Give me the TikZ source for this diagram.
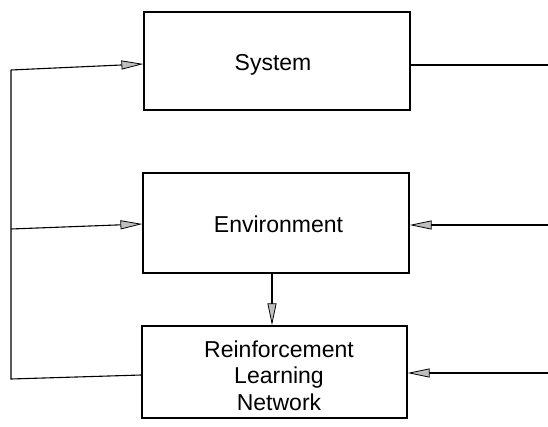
\documentclass[tikz,border=0pt]{standalone}
\usepackage{fontspec}
\setmainfont{Liberation Sans}
\usetikzlibrary{arrows.meta}
\begin{document}
\begin{tikzpicture}[x=1pt,y=-1pt,
  box/.style={draw=black, line width=1.2pt, inner sep=0pt, rectangle},
  lbl/.style={font=\fontsize{23}{27}\selectfont, inner sep=0pt, anchor=base},
  wire/.style={draw=black, line width=1.1pt},
  arr/.style={wire, -{Triangle[length=22pt, width=9pt, fill=gray!50, line width=0.8pt]}}]
\useasboundingbox (0,0) rectangle (548,427);
% boxes
\node[box, minimum width=266pt, minimum height=98pt] (sys) at (277,61) {};
\node[box, minimum width=266pt, minimum height=100pt] (env) at (276,223) {};
\node[box, minimum width=265pt, minimum height=92pt] (rl) at (274.5,372) {};
% labels
\node[lbl] (tsys) at (273,71) {System};
\node[lbl] (tenv) at (278.5,233) {Environment};
\node[lbl] (trl1) at (279,357) {Reinforcement};
\node[lbl] (trl2) at (279,383) {Learning};
\node[lbl] (trl3) at (279,410) {Network};
% left trunk
\coordinate (L1) at (11,70);
\coordinate (L2) at (11,229);
\coordinate (L3) at (11,379);
\draw[wire] ([yshift=-3pt]rl.west) -- (L3) -- (L1);
\draw[arr] (L1) -- ([yshift=-3pt]sys.west);
\draw[arr] (L2) -- ([yshift=-1pt]env.west);
% right side
\coordinate (R1) at (548,65);
\coordinate (R2) at (548,225);
\coordinate (R3) at (548,373);
\draw[wire] ([yshift=-4pt]sys.east) -- (R1);
\draw[arr] (R2) -- ([yshift=-2pt]env.east);
\draw[arr] (R3) -- ([yshift=-1pt]rl.east);
% down arrow
\draw[arr] ([xshift=-4pt]env.south) -- ([xshift=-2.5pt]rl.north);
\end{tikzpicture}
\end{document}
